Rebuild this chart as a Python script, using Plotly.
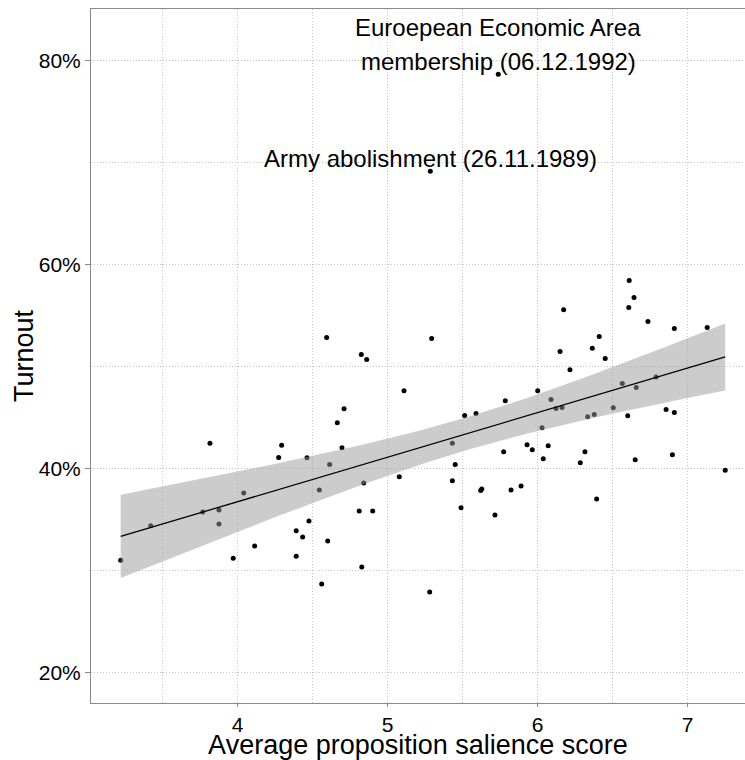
import numpy as np
import plotly.graph_objects as go

# Average proposition salience score per vote
salience = [
    3.22, 3.42, 3.815, 3.767, 3.875, 3.875, 3.97, 4.04, 4.113, 4.273,
    4.293, 4.462, 4.39, 4.433, 4.39, 4.475, 4.544, 4.60, 4.56, 4.613,
    4.664, 4.593, 4.824, 4.86, 4.709, 4.695, 4.84, 4.81, 4.90, 4.827,
    5.109, 5.077, 5.293, 5.28, 5.431, 5.45, 5.431, 5.489, 5.513, 5.589,
    5.784, 5.773, 5.627, 5.62, 5.822, 5.889, 5.715, 5.929, 5.964, 6.00,
    6.037, 6.07, 6.029, 6.089, 6.122, 6.162, 6.149, 6.173, 6.215, 6.284,
    6.315, 6.333, 6.364, 6.377, 6.41, 6.45, 6.504, 6.564, 6.60, 6.657,
    6.61, 6.642, 6.607, 6.735, 6.789, 6.911, 6.856, 6.911, 6.898, 6.65,
    7.13, 7.25, 6.393, 5.737, 5.284,
]

# Turnout in percent, same order as salience
turnout = [
    31.0, 34.4, 42.5, 35.75, 35.95, 34.57, 31.2, 37.6, 32.4, 41.1,
    42.3, 41.06, 33.9, 33.3, 31.4, 34.87, 37.9, 32.9, 28.67, 40.4,
    44.5, 52.86, 51.2, 50.7, 45.88, 42.05, 38.6, 35.85, 35.85, 30.35,
    47.65, 39.2, 52.76, 27.9, 42.5, 40.4, 38.8, 36.15, 45.2, 45.4,
    46.67, 41.65, 38.0, 37.86, 37.9, 38.3, 35.46, 42.34, 41.85, 47.65,
    40.96, 42.24, 44.0, 46.77, 45.9, 46.0, 51.5, 55.6, 49.7, 40.57,
    41.65, 45.1, 51.8, 45.3, 52.96, 50.8, 45.98, 48.34, 45.19, 47.95,
    58.47, 56.8, 55.8, 54.43, 49.0, 53.75, 45.8, 45.5, 41.36, 40.87,
    53.84, 39.85, 37.03, 78.69, 69.18,
]

# Labelled votes (each label is a list of text lines)
label_x = [5.737, 5.284]
label_y = [78.69, 69.18]
label_lines = [
    ["Euroepean Economic Area", "membership (06.12.1992)"],
    ["Army abolishment (26.11.1989)"],
]

y_tickvals = [20, 40, 60, 80]
y_ticktext = ["20%", "40%", "60%", "80%"]
x_tickvals = [4, 5, 6, 7]
x_ticktext = ["4", "5", "6", "7"]

# Linear fit with 95% confidence band
x = np.array(salience)
y = np.array(turnout)
n = len(x)
slope, intercept = np.polyfit(x, y, 1)
resid = y - (intercept + slope * x)
s = np.sqrt(np.sum(resid ** 2) / (n - 2))
sxx = np.sum((x - x.mean()) ** 2)
t_crit = 1.9890
xs = np.linspace(x.min(), x.max(), 80)
fit = intercept + slope * xs
half = t_crit * s * np.sqrt(1.0 / n + (xs - x.mean()) ** 2 / sxx)

FONT = "Liberation Sans, Arial, sans-serif"
GRID = "#c4c4c4"
AXIS = "#8a8a8a"
DOT = "1px,2px"

fig = go.Figure()
fig.add_trace(go.Scatter(
    x=salience, y=turnout, mode="markers",
    marker=dict(color="black", size=5, line=dict(width=0)),
    hoverinfo="x+y", showlegend=False,
))
fig.add_trace(go.Scatter(
    x=xs, y=fit + half, mode="lines", line=dict(width=0),
    hoverinfo="skip", showlegend=False,
))
fig.add_trace(go.Scatter(
    x=xs, y=fit - half, mode="lines", line=dict(width=0),
    fill="tonexty", fillcolor="rgba(153,153,153,0.5)",
    hoverinfo="skip", showlegend=False,
))
fig.add_trace(go.Scatter(
    x=xs, y=fit, mode="lines", line=dict(color="black", width=1.3),
    hoverinfo="skip", showlegend=False,
))

LINE_STEP = 34
for lx, ly, lines in zip(label_x, label_y, label_lines):
    for i, line in enumerate(reversed(lines)):
        fig.add_annotation(
            x=lx, y=ly, text=line, showarrow=False,
            xanchor="center", yanchor="bottom", yshift=-3 + i * LINE_STEP,
            font=dict(family=FONT, size=24, color="black"),
        )

# Y axis title placed as a rotated label left of the tick labels
fig.add_annotation(
    text="Turnout", xref="paper", yref="paper", x=0, y=0.5,
    xanchor="center", yanchor="middle", xshift=-67, textangle=-90,
    showarrow=False, font=dict(family=FONT, size=27, color="black"),
)

fig.update_xaxes(
    range=[3.022, 7.382], tickmode="array", tickvals=x_tickvals, ticktext=x_ticktext,
    showgrid=True, gridcolor=GRID, griddash=DOT, gridwidth=1,
    minor=dict(dtick=0.5, tick0=0, showgrid=True, gridcolor=GRID, griddash=DOT, ticks=""),
    showline=True, linecolor=AXIS, linewidth=1, mirror=True,
    ticks="outside", ticklen=3, tickcolor=AXIS, tickwidth=1,
    tickfont=dict(family=FONT, size=21, color="black"),
    title=dict(text="Average proposition salience score", standoff=0,
               font=dict(family=FONT, size=27, color="black")),
    zeroline=False,
)
fig.update_yaxes(
    range=[17.0, 85.1], tickmode="array", tickvals=y_tickvals, ticktext=y_ticktext,
    showgrid=True, gridcolor=GRID, griddash=DOT, gridwidth=1,
    minor=dict(dtick=10, tick0=0, showgrid=True, gridcolor=GRID, griddash=DOT, ticks=""),
    showline=True, linecolor=AXIS, linewidth=1, mirror=False,
    ticks="outside", ticklen=5, tickcolor=AXIS, tickwidth=1,
    tickfont=dict(family=FONT, size=21, color="black"),
    zeroline=False,
)
fig.update_layout(
    width=745, height=760,
    margin=dict(l=91, r=0, t=9, b=57),
    paper_bgcolor="white", plot_bgcolor="white",
    font=dict(family=FONT),
)

fig.write_html("out.html")
